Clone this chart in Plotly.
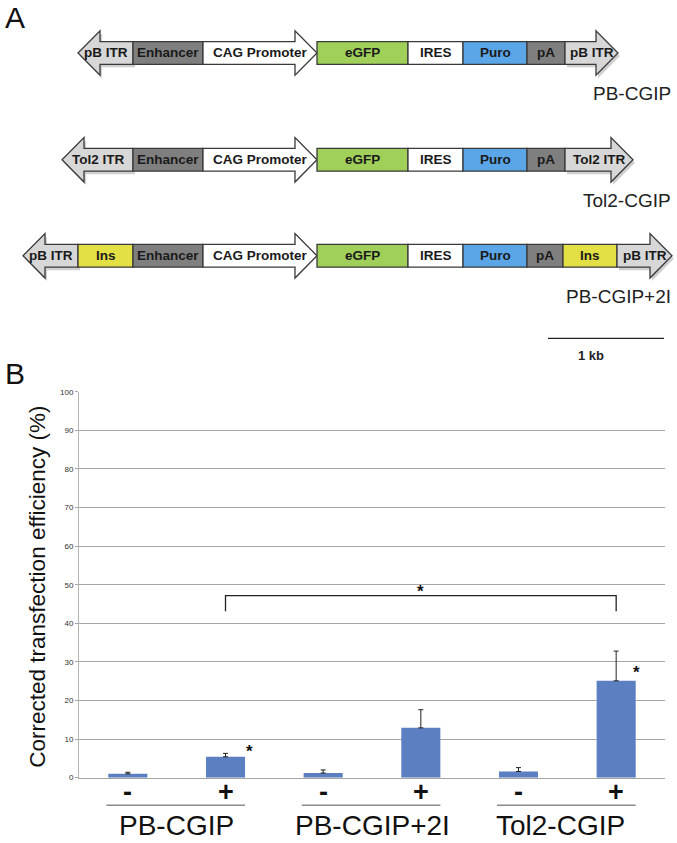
import plotly.graph_objects as go

# ---------------- Data ----------------
# Panel B: corrected transfection efficiency (%)
conditions = ["PB-CGIP", "PB-CGIP+2I", "Tol2-CGIP"]
signs = ["-", "+", "-", "+", "-", "+"]
efficiency = [1.0, 5.4, 1.2, 12.9, 1.6, 25.1]
error_up = [0.4, 0.9, 0.8, 4.7, 1.0, 7.7]
y_ticks = [0, 10, 20, 30, 40, 50, 60, 70, 80, 90, 100]
y_title = "Corrected transfection efficiency (%)"

# Panel A: vector constructs
construct_names = ["PB-CGIP", "Tol2-CGIP", "PB-CGIP+2I"]
construct_parts = [
    ["pB ITR", "Enhancer", "CAG Promoter", "eGFP", "IRES", "Puro", "pA", "pB ITR"],
    ["Tol2 ITR", "Enhancer", "CAG Promoter", "eGFP", "IRES", "Puro", "pA", "Tol2 ITR"],
    ["pB ITR", "Ins", "Enhancer", "CAG Promoter", "eGFP", "IRES", "Puro", "pA", "Ins", "pB ITR"],
]
scale_label = "1 kb"

# ---------------- Geometry / styles ----------------
W, H = 677, 843
FONT = "Liberation Sans, Arial, sans-serif"

part_widths = [
    [55, 70, 114, 91, 55, 64, 38, 53],
    [71, 70, 114, 91, 55, 64, 38, 68],
    [55, 55, 70, 114, 91, 55, 64, 36, 54, 55],
]
row_start = [78, 62, 23]
row_center = [49.5, 157.5, 254.5]
body_half, head_half, head_len = 11.5, 22.5, 22

part_colors = {
    "pB ITR": "#d7d7d7", "Tol2 ITR": "#d7d7d7", "Enhancer": "#7f7f7f",
    "CAG Promoter": "#ffffff", "eGFP": "#a0cf5a", "IRES": "#ffffff",
    "Puro": "#5ba6e6", "pA": "#7f7f7f", "Ins": "#e2e044",
}


def px(x):
    return x / W


def py(y):
    return 1 - y / H


def path(points):
    return "M " + " L ".join(f"{px(x):.5f},{py(y):.5f}" for x, y in points) + " Z"


shapes = []
annotations = []
OUT = "#3a3a3a"

for r, parts in enumerate(construct_parts):
    yc = row_center[r]
    top, bot = yc - body_half, yc + body_half
    htop, hbot = yc - head_half, yc + head_half
    x = row_start[r]
    n = len(parts)
    for i, name in enumerate(parts):
        w = part_widths[r][i]
        x0, x1 = x, x + w
        color = part_colors[name]
        if i == 0:  # left-pointing ITR arrow
            hb = x0 + head_len
            pts = [(x1, top), (hb, top), (hb, htop), (x0, yc), (hb, hbot), (hb, bot), (x1, bot)]
        elif i == n - 1:  # right-pointing ITR arrow
            hb = x1 - head_len
            pts = [(x0, top), (hb, top), (hb, htop), (x1, yc), (hb, hbot), (hb, bot), (x0, bot)]
        elif name == "CAG Promoter":
            hb = x1 - head_len
            pts = [(x0, top), (hb, top), (hb, htop), (x1, yc), (hb, hbot), (hb, bot), (x0, bot)]
        else:
            pts = [(x0, top), (x1, top), (x1, bot), (x0, bot)]
        if i == 0 or i == n - 1:
            shapes.append(dict(type="path", xref="paper", yref="paper",
                               path=path([(a + 2, b + 3) for a, b in pts]),
                               fillcolor="rgba(120,120,120,0.35)", line=dict(width=0), layer="above"))
        shapes.append(dict(type="path", xref="paper", yref="paper", path=path(pts),
                           fillcolor=color, line=dict(color=OUT, width=1.3), layer="above"))
        annotations.append(dict(x=px((x0 + x1) / 2), y=py(yc), xref="paper", yref="paper",
                                text=name, showarrow=False, xanchor="center", yanchor="middle",
                                font=dict(family=FONT, size=13.5, color="#1a1a1a", weight="bold")))
        x = x1
    annotations.append(dict(x=px(673), y=py(yc + 41), xref="paper", yref="paper",
                            text=construct_names[r], showarrow=False, xanchor="right", yanchor="middle",
                            font=dict(family=FONT, size=19, color="#222")))

# scale bar
shapes.append(dict(type="line", xref="paper", yref="paper", x0=px(548), x1=px(664),
                   y0=py(338), y1=py(338), line=dict(color="#222", width=1.3)))
annotations.append(dict(x=px(606), y=py(355), xref="paper", yref="paper", text=scale_label,
                        showarrow=False, font=dict(family=FONT, size=13, color="#222", weight="bold")))

# panel letters
annotations.append(dict(x=px(3), y=py(14), xref="paper", yref="paper", text="A", showarrow=False,
                        xanchor="left", yanchor="middle", font=dict(family=FONT, size=30, color="#111")))
annotations.append(dict(x=px(3), y=py(373), xref="paper", yref="paper", text="B", showarrow=False,
                        xanchor="left", yanchor="middle", font=dict(family=FONT, size=30, color="#111")))

# ---------------- Panel B ----------------
fig = go.Figure()
xs = list(range(len(efficiency)))
fig.add_trace(go.Bar(
    x=xs, y=efficiency, marker=dict(color="#5b7fc0", line=dict(width=0)),
    error_y=dict(type="data", array=error_up, arrayminus=[0] * len(error_up), symmetric=False,
                 color="#222", thickness=1, width=2.5),
    showlegend=False, hoverinfo="skip",
))

# significance markers
stars = [(1.25, 6.8), (5.21, 27.2), (3.0, 48.2)]
for sx, sy in stars:
    annotations.append(dict(x=sx, y=sy, xref="x", yref="y", text="*", showarrow=False,
                            font=dict(family=FONT, size=17, color="#111", weight="bold")))
# bracket between PB-CGIP + and Tol2-CGIP +
bracket_y, bracket_drop = 47.2, 43.1
shapes.append(dict(type="path", xref="x", yref="y",
                   path=f"M 1,{bracket_drop} L 1,{bracket_y} L 5,{bracket_y} L 5,{bracket_drop}",
                   line=dict(color="#222", width=1.3)))

# -/+ labels under each bar
for xi, s in zip(xs, signs):
    annotations.append(dict(x=xi, y=py(797), xref="x", yref="paper", text=s, showarrow=False,
                            xanchor="center", yanchor="middle",
                            font=dict(family=FONT, size=27, color="#111", weight="bold")))

# group underlines and labels
for g, name in enumerate(conditions):
    a, b = 2 * g, 2 * g + 1
    shapes.append(dict(type="line", xref="x", yref="paper", x0=a - 0.22, x1=b + 0.2,
                       y0=py(810), y1=py(810), line=dict(color="#8c8c8c", width=1.5)))
    annotations.append(dict(x=(a + b) / 2 - (0.07 if g == 2 else 0.0), y=py(830), xref="x", yref="paper",
                            text=name, showarrow=False, xanchor="center", yanchor="middle",
                            font=dict(family=FONT, size=28, color="#111")))

annotations.append(dict(x=px(38), y=py(589), xref="paper", yref="paper", text=y_title, textangle=-90,
                        showarrow=False, xanchor="center", yanchor="middle",
                        font=dict(family=FONT, size=22.5, color="#111")))

fig.update_layout(
    width=W, height=H, margin=dict(l=0, r=0, t=0, b=0),
    paper_bgcolor="white", plot_bgcolor="white",
    bargap=0.6, shapes=shapes, annotations=annotations,
    xaxis=dict(domain=[px(79), px(665)], range=[-0.5, 5.5], tickvals=xs, showticklabels=False,
               showgrid=False, zeroline=False, showline=True, linecolor="#a6a6a6", linewidth=1,
               ticks="", fixedrange=True),
    yaxis=dict(domain=[py(782), py(392)], range=[0, 100], tickvals=y_ticks,
               tickfont=dict(family=FONT, size=8, color="#333"),
               showgrid=True, gridcolor="#a6a6a6", gridwidth=1, zeroline=False,
               showline=True, linecolor="#b5b5b5", linewidth=1,
               ticks="outside", ticklen=3, tickcolor="#a6a6a6", fixedrange=True),
    font=dict(family=FONT),
)

fig.write_html("out.html", config={"displayModeBar": False},
               post_script="document.body.style.margin='0';document.body.style.overflow='hidden';")
